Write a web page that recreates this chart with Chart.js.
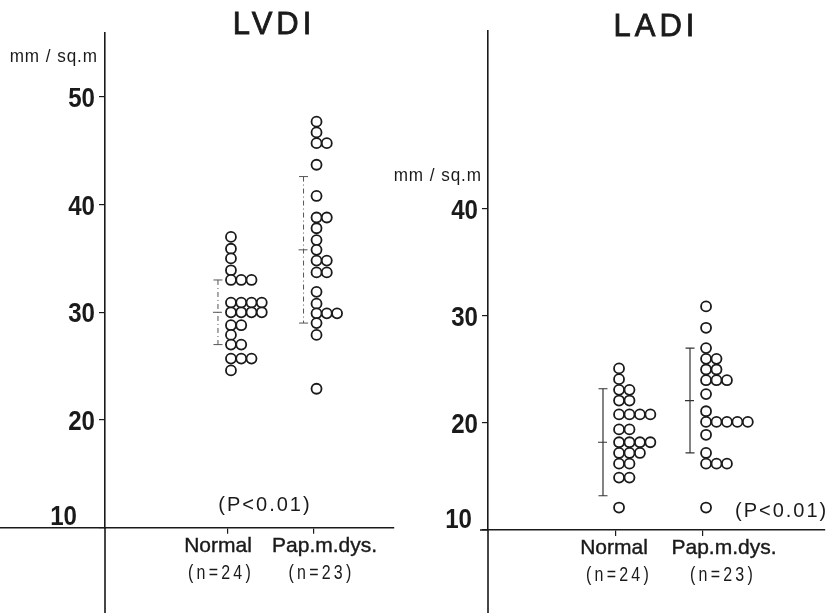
<!DOCTYPE html>
<html lang="en">
<head>
  <meta charset="UTF-8" />
  <title>LVDI / LADI</title>
  <script src="https://cdn.jsdelivr.net/npm/chart.js@4.4.1/dist/chart.umd.min.js"></script>
  <style>
    body { margin: 0; background: #fff; width: 834px; height: 613px; overflow: hidden; position: relative; }
    canvas { position: absolute; top: 0; }
    #lvdi { left: 0; }
    #ladi { left: 392px; }
  </style>
</head>
<body>
  <canvas id="lvdi" width="400" height="613"></canvas>
  <canvas id="ladi" width="442" height="613"></canvas>

  <script>
    // ---- data ----
    const groups = ["Normal", "Pap.m.dys."];
    const groupN = ["(n=24)", "(n=23)"];
    const pText = "(P<0.01)";
    const unitText = "mm / sq.m";

    const lvdiTicks = [10, 20, 30, 40, 50];
    const lvdiNormal = [37.0, 35.9, 35.0, 33.9, 33.0, 33.0, 33.0,
      30.9, 30.9, 30.9, 30.9, 30.0, 30.0, 30.0, 30.0, 28.8, 28.8,
      27.9, 27.0, 27.0, 25.7, 25.7, 25.7, 24.6];
    const lvdiPap = [47.7, 46.7, 45.7, 45.7, 43.7, 40.8, 38.8, 38.8,
      37.8, 36.7, 35.8, 34.8, 34.8, 33.7, 33.7, 31.9, 30.8,
      29.9, 29.9, 29.9, 29.0, 27.9, 22.9];
    const lvdiMean = [30.0, 35.8];
    const lvdiSD = [3.0, 6.8];

    const ladiTicks = [10, 20, 30, 40];
    const ladiNormal = [25.1, 24.1, 23.1, 23.1, 22.1, 22.1,
      20.8, 20.8, 20.8, 20.8, 19.4, 19.4, 18.2, 18.2, 18.2, 18.2,
      17.2, 17.2, 17.2, 16.2, 16.2, 14.9, 14.9, 12.1];
    const ladiPap = [30.9, 28.9, 27.0, 26.0, 26.0, 25.0, 25.0,
      24.0, 24.0, 24.0, 22.7, 21.1, 20.1, 20.1, 20.1, 20.1, 20.1,
      18.9, 17.2, 16.2, 16.2, 16.2, 12.1];
    const ladiMean = [18.2, 22.1];
    const ladiSD = [5.0, 4.9];

    const INK = "#1a1a1a";
    const TXT_FONT = '"Liberation Sans", Arial, sans-serif';

    // equal values sit side by side, like the dot columns in the paper
    function swarm(values, cat) {
      const seen = {};
      return values.map(v => {
        const k = seen[v] || 0;
        seen[v] = k + 1;
        return { x: cat + 0.035 + k * 0.12, y: v };
      });
    }

    // text with optional horizontal squeeze (the paper uses a condensed face)
    function text(ctx, str, x, y, font, align, spacing, squeeze, weight) {
      ctx.save();
      ctx.translate(x, y);
      ctx.scale(squeeze || 1, 1);
      ctx.font = font;
      ctx.textAlign = align;
      ctx.textBaseline = "alphabetic";
      ctx.letterSpacing = (spacing || 0) + "px";
      ctx.fillText(str, 0, 0);
      if (weight) {
        ctx.lineWidth = weight;
        ctx.strokeStyle = INK;
        ctx.strokeText(str, 0, 0);
      }
      ctx.restore();
    }

    const decor = {
      id: "decor",
      beforeDatasetsDraw(chart, args, o) {
        const { ctx, scales: { x, y } } = chart;
        ctx.save();
        ctx.strokeStyle = o.barColor;
        ctx.lineWidth = o.barWidth;
        o.mean.forEach((m, i) => {
          const px = x.getPixelForValue(i + 1) + o.barDx;
          const top = y.getPixelForValue(m + o.sd[i]);
          const bot = y.getPixelForValue(m - o.sd[i]);
          const mid = y.getPixelForValue(m);
          ctx.setLineDash(o.barDash);
          ctx.beginPath();
          ctx.moveTo(px, top); ctx.lineTo(px, bot);
          ctx.stroke();
          ctx.setLineDash([]);
          ctx.beginPath();
          ctx.moveTo(px - 4.5, top); ctx.lineTo(px + 4.5, top);
          ctx.moveTo(px - 4.5, bot); ctx.lineTo(px + 4.5, bot);
          ctx.moveTo(px - 5, mid); ctx.lineTo(px + 4, mid);
          ctx.stroke();
        });
        ctx.restore();
      },
      afterDraw(chart, args, o) {
        const { ctx, chartArea: a, scales: { x, y } } = chart;
        ctx.save();
        ctx.strokeStyle = INK;
        ctx.lineWidth = 1.6;
        const yBase = y.getPixelForValue(o.base);
        ctx.beginPath();
        ctx.moveTo(a.left, a.bottom); ctx.lineTo(a.left, chart.height);
        ctx.moveTo(o.axisStart, yBase); ctx.lineTo(a.left, yBase);
        ctx.stroke();

        ctx.fillStyle = INK;
        const numFont = "bold 28px " + TXT_FONT;
        y.ticks.forEach(t => {
          if (t.value === o.base) return;
          text(ctx, String(t.value), a.left - 10, y.getPixelForValue(t.value) + 10, numFont, "right", 0, 0.86);
        });
        text(ctx, String(o.base), o.baseX, o.baseY, numFont, "right", 0, 0.86);

        text(ctx, o.title, o.titleX, o.titleY, "31px " + TXT_FONT, "center", 4, 1, 0.8);
        text(ctx, unitText, o.unitX, o.unitY, "18px " + TXT_FONT, "right", 1, 0.95);
        text(ctx, pText, o.pX, o.pY, "20px " + TXT_FONT, o.pAlign, 2);

        groups.forEach((g, i) => {
          const px = x.getPixelForValue(i + 1);
          text(ctx, g, px + o.nameDx[i], a.bottom + 24, "21px " + TXT_FONT, "center", 0, 1, 0.4);
          text(ctx, groupN[i], px + o.nDx[i], a.bottom + 51, "20px " + TXT_FONT, "center", 4, 0.8);
        });
        ctx.restore();
      }
    };

    function dotPlot(id, c) {
      return new Chart(document.getElementById(id), {
        type: "scatter",
        data: {
          datasets: [
            { data: swarm(c.normal, 1) },
            { data: swarm(c.pap, 2) }
          ]
        },
        options: {
          responsive: false,
          animation: false,
          events: [],
          layout: { padding: { top: c.top, right: c.right, left: 0, bottom: 0 } },
          elements: {
            point: { radius: 5, borderWidth: 1.8, borderColor: INK, backgroundColor: "#fff", pointStyle: "circle" }
          },
          plugins: {
            legend: { display: false },
            tooltip: { enabled: false },
            decor: c.decor
          },
          scales: {
            x: {
              type: "linear",
              min: c.xMin,
              max: c.xMax,
              afterBuildTicks: s => { s.ticks = groups.map((g, i) => ({ value: i + 1 })); },
              afterFit: s => { s.height = c.xHeight; },
              border: { color: INK, width: 1.6 },
              grid: { drawOnChartArea: false, tickLength: 6, color: INK, lineWidth: 1.2 },
              ticks: { display: false }
            },
            y: {
              min: c.yMin,
              max: c.yMax,
              afterBuildTicks: s => { s.ticks = c.ticks.map(v => ({ value: v })); },
              afterFit: s => { s.width = c.yWidth; },
              border: { color: INK, width: 1.6 },
              grid: { drawOnChartArea: false, tickLength: 6, color: INK, lineWidth: 1.2 },
              ticks: { display: false }
            }
          }
        },
        plugins: [decor]
      });
    }

    dotPlot("lvdi", {
      normal: lvdiNormal, pap: lvdiPap, ticks: lvdiTicks,
      yMin: 10, yMax: 55.93, xMin: -0.437, xMax: 2.931,
      top: 33, right: 2, yWidth: 105, xHeight: 85.3,
      decor: {
        mean: lvdiMean, sd: lvdiSD, base: 10,
        barDx: -10, barDash: [5, 3, 1, 3], barColor: "#555", barWidth: 1,
        axisStart: 0,
        title: "LVDI", titleX: 274, titleY: 34,
        unitX: 98, unitY: 62,
        baseX: 77, baseY: 525,
        pX: 265, pY: 511, pAlign: "center",
        nameDx: [-10, 11], nDx: [-7, 8]
      }
    });

    dotPlot("ladi", {
      normal: ladiNormal, pap: ladiPap, ticks: ladiTicks,
      yMin: 10, yMax: 56.64, xMin: -0.471, xMax: 3.402,
      top: 31, right: 9, yWidth: 96, xHeight: 83,
      decor: {
        mean: ladiMean, sd: ladiSD, base: 10,
        barDx: -13, barDash: [], barColor: "#333", barWidth: 1.2,
        axisStart: 88,
        title: "LADI", titleX: 264, titleY: 36,
        unitX: 90, unitY: 181,
        baseX: 80, baseY: 528,
        pX: 343, pY: 517, pAlign: "left",
        nameDx: [-2, 21], nDx: [3, 20]
      }
    });
  </script>
</body>
</html>
